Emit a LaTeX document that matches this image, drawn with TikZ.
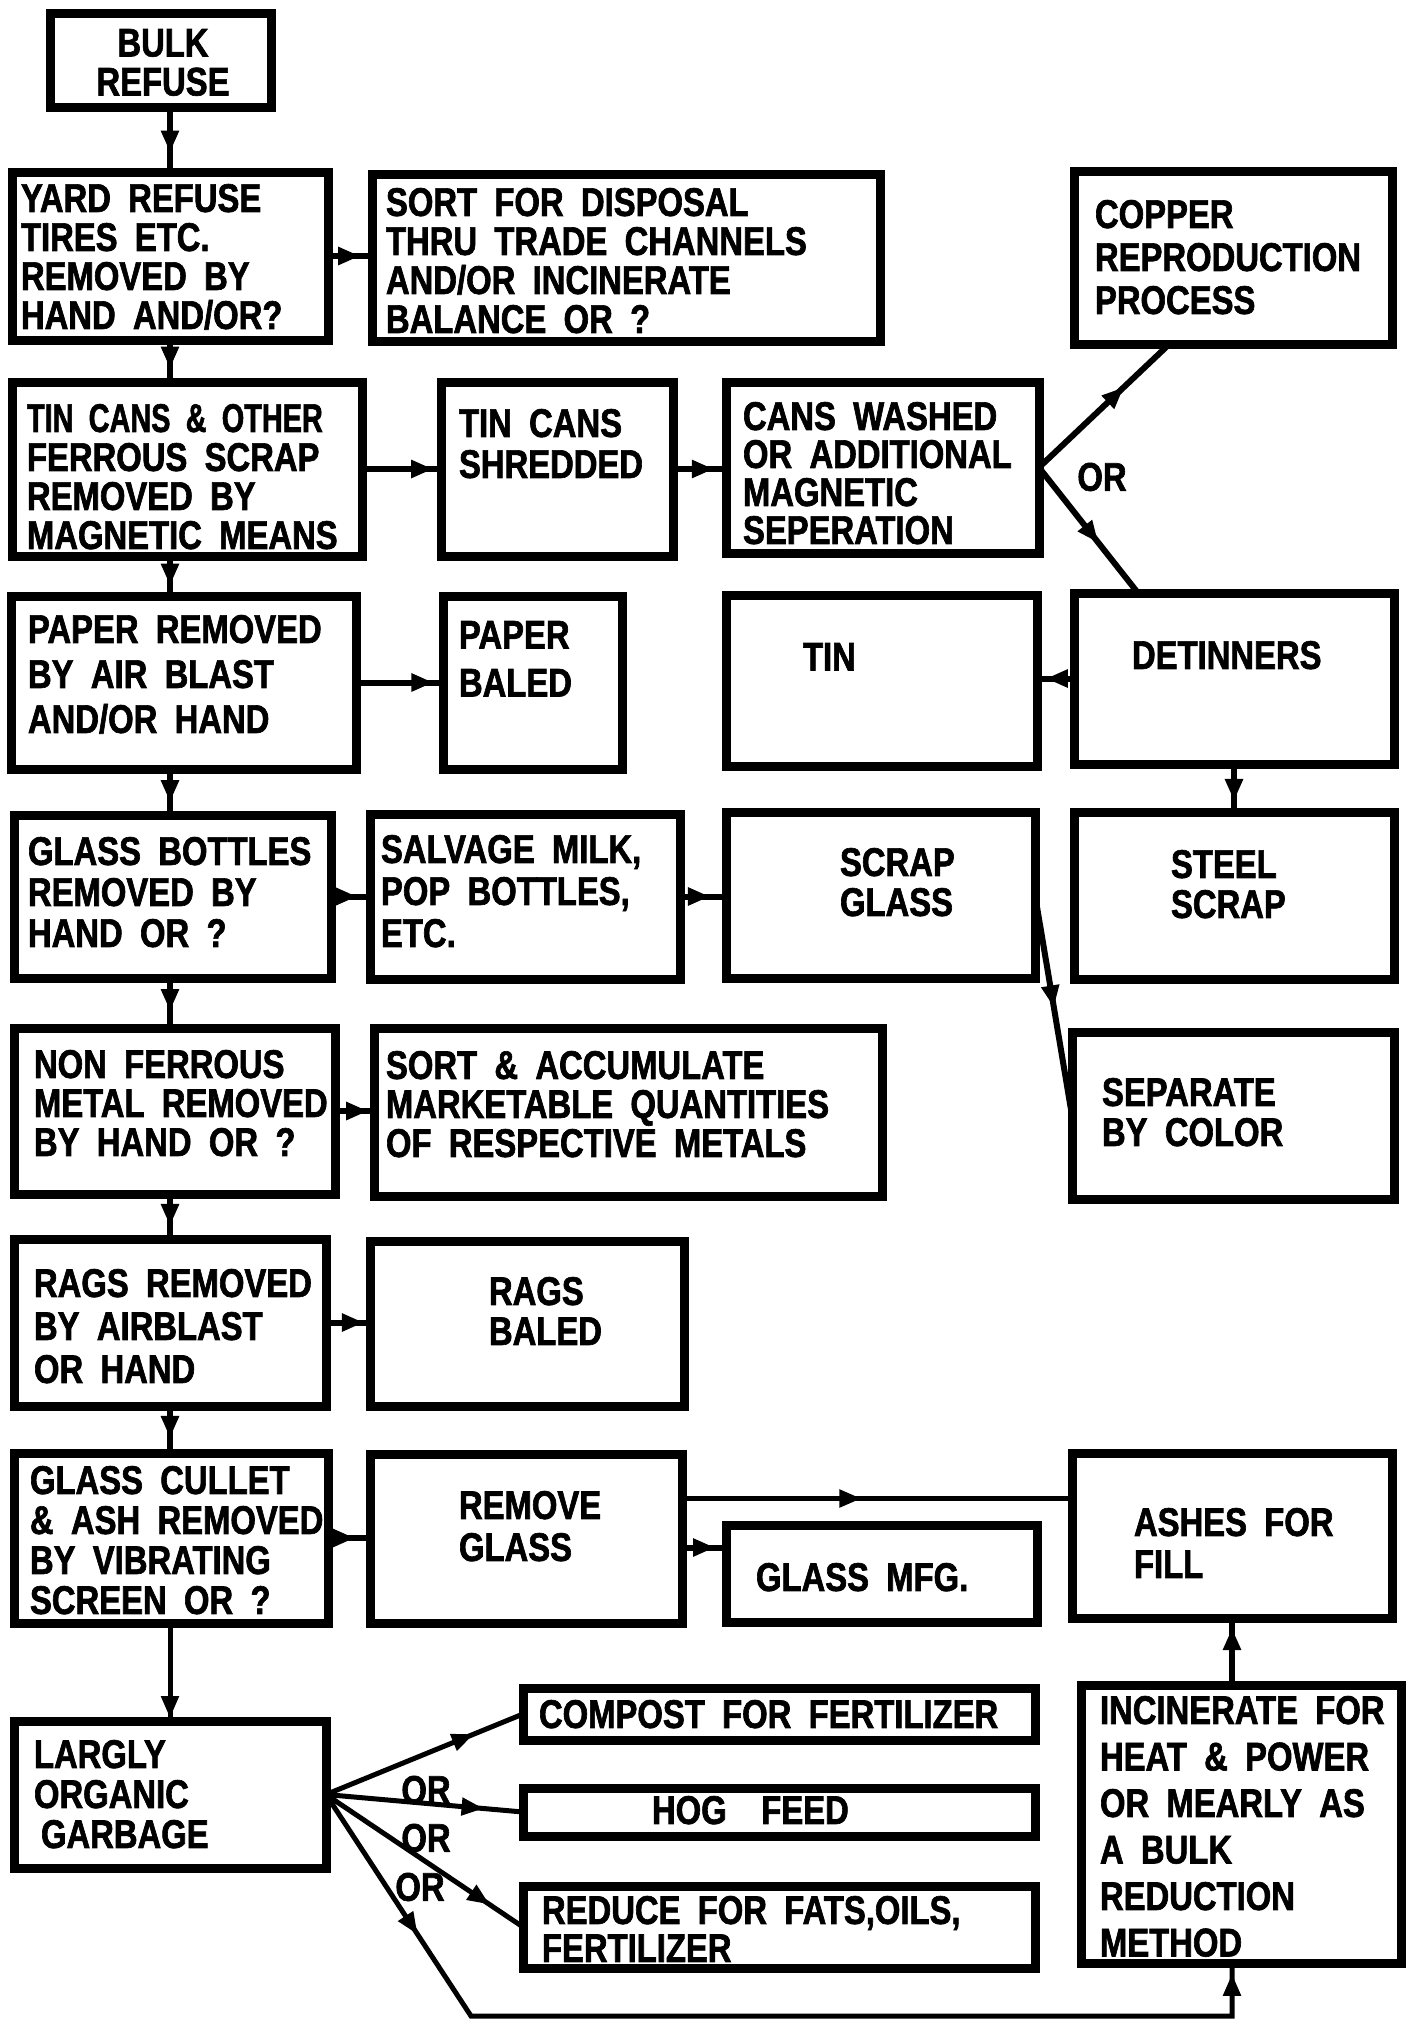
\documentclass[tikz,border=0pt]{standalone}
\usepackage{graphicx}
\usepackage{fontspec}
\setmainfont{Liberation Sans}[FakeStretch=0.82,WordSpace=1.9,BoldFeatures={FakeBold=1.6}]
\usetikzlibrary{arrows.meta,decorations.markings,calc}
\tikzset{
  box/.style={draw, line width=9pt, inner sep=0pt, outer sep=0pt, line join=miter},
  txt/.style={inner sep=0pt, outer sep=0pt, anchor=north west, align=left},
  ortxt/.style={inner sep=0pt, outer sep=0pt, font=\fontsize{40}{40}\selectfont\bfseries},
  conn/.style={draw, line width=6pt},
  olink/.style={draw, line width=5pt, line join=miter},
  ar/.style={postaction={decorate}, decoration={markings, mark=at position #1 with {\arrow{Triangle[length=22pt,width=17pt]}}}},
  artwo/.style 2 args={postaction={decorate}, decoration={markings,
     mark=at position #1 with {\arrow{Triangle[length=22pt,width=17pt]}},
     mark=at position #2 with {\arrow{Triangle[length=22pt,width=17pt]}}}},
}
\newcommand\PlaceBox[5]{\node[box, minimum width={#4-#2}, minimum height={#5-#3}] (#1) at ({(#2+#4)/2},{(#3+#5)/2}) {};}
\newcommand\PlaceText[5][39]{\node[txt, font={\fontsize{40}{#1}\selectfont\bfseries}] (#2) at (#3,#4) {#5};}
\begin{document}
\begin{tikzpicture}[x=1pt,y=-1pt]
\useasboundingbox[fill=white] (0,0) rectangle (1407,2022);
% boxes
\PlaceBox{bulk}{50}{13}{271}{107}
\PlaceBox{yard}{12}{172}{328}{340}
\PlaceBox{sort}{372}{174}{880}{341}
\PlaceBox{copper}{1074}{171}{1392}{344}
\PlaceBox{tincans}{12}{382}{362}{556}
\PlaceBox{shredded}{441}{382}{673}{556}
\PlaceBox{washed}{726}{382}{1039}{553}
\PlaceBox{paper}{11}{596}{356}{769}
\PlaceBox{paperbaled}{443}{596}{622}{769}
\PlaceBox{tin}{726}{595}{1037}{766}
\PlaceBox{detinners}{1074}{593}{1394}{764}
\PlaceBox{glassbottles}{14}{815}{331}{978}
\PlaceBox{salvage}{370}{814}{680}{979}
\PlaceBox{scrapglass}{726}{812}{1035}{978}
\PlaceBox{steel}{1074}{812}{1394}{979}
\PlaceBox{nonferrous}{14}{1028}{335}{1194}
\PlaceBox{sortacc}{374}{1028}{882}{1196}
\PlaceBox{separate}{1072}{1032}{1394}{1199}
\PlaceBox{rags}{14}{1239}{326}{1406}
\PlaceBox{ragsbaled}{370}{1241}{684}{1406}
\PlaceBox{cullet}{14}{1453}{328}{1623}
\PlaceBox{removeglass}{370}{1454}{682}{1623}
\PlaceBox{glassmfg}{726}{1525}{1037}{1622}
\PlaceBox{ashes}{1072}{1453}{1392}{1618}
\PlaceBox{largly}{14}{1721}{326}{1868}
\PlaceBox{compost}{523}{1688}{1035}{1740}
\PlaceBox{hogfeed}{523}{1788}{1035}{1836}
\PlaceBox{reduce}{523}{1886}{1035}{1968}
\PlaceBox{incinerate}{1081}{1685}{1401}{1963}
% texts
\node[txt, anchor=north, align=center, font={\fontsize{40}{39}\selectfont\bfseries}] (bulkT) at (163,29) {BULK\\REFUSE};
\PlaceText{yardT}{21}{184}{YARD REFUSE\\TIRES ETC.\\REMOVED BY\\HAND AND/OR?}
\PlaceText{sortT}{386}{188}{SORT FOR DISPOSAL\\THRU TRADE CHANNELS\\AND/OR INCINERATE\\BALANCE OR ?}
\PlaceText[43]{copperT}{1095}{200}{COPPER\\REPRODUCTION\\PROCESS}
\PlaceText{tincansT}{27}{404}{\scalebox{0.88}[1]{TIN CANS \& OTHER}\\FERROUS SCRAP\\REMOVED BY\\MAGNETIC MEANS}
\PlaceText[41]{shreddedT}{459}{409}{TIN CANS\\SHREDDED}
\PlaceText[38]{washedT}{743}{402}{CANS WASHED\\OR ADDITIONAL\\MAGNETIC\\SEPERATION}
\PlaceText[45]{paperT}{28}{615}{PAPER REMOVED\\BY AIR BLAST\\AND/OR HAND}
\PlaceText[48]{paperbaledT}{459}{621}{PAPER\\BALED}
\PlaceText{tinT}{803}{643}{TIN}
\PlaceText{detinnersT}{1132}{641}{DETINNERS}
\PlaceText[41]{glassbottlesT}{28}{837}{GLASS BOTTLES\\REMOVED BY\\HAND OR ?}
\PlaceText[42]{salvageT}{381}{835}{SALVAGE MILK,\\POP BOTTLES,\\ETC.}
\PlaceText[40]{scrapglassT}{840}{848}{SCRAP\\GLASS}
\PlaceText[40]{steelT}{1171}{850}{STEEL\\SCRAP}
\PlaceText{nonferrousT}{34}{1050}{NON FERROUS\\METAL REMOVED\\BY HAND OR ?}
\PlaceText{sortaccT}{386}{1051}{SORT \& ACCUMULATE\\MARKETABLE QUANTITIES\\OF RESPECTIVE METALS}
\PlaceText[40]{separateT}{1102}{1078}{SEPARATE\\BY COLOR}
\PlaceText[43]{ragsT}{34}{1269}{RAGS REMOVED\\BY AIRBLAST\\OR HAND}
\PlaceText[40]{ragsbaledT}{489}{1277}{RAGS\\BALED}
\PlaceText[40]{culletT}{30}{1466}{GLASS CULLET\\\& ASH REMOVED\\BY VIBRATING\\SCREEN OR ?}
\PlaceText[42]{removeglassT}{459}{1491}{REMOVE\\GLASS}
\PlaceText{glassmfgT}{756}{1563}{GLASS MFG.}
\PlaceText[42]{ashesT}{1134}{1508}{ASHES FOR\\FILL}
\PlaceText[40]{larglyT}{34}{1740}{LARGLY\\ORGANIC\\\hspace*{7pt}GARBAGE}
\PlaceText{compostT}{539}{1700}{COMPOST FOR FERTILIZER}
\PlaceText{hogfeedT}{652}{1796}{HOG~~FEED}
\PlaceText[38]{reduceT}{542}{1896}{REDUCE FOR FATS,OILS,\\FERTILIZER}
\PlaceText[46.5]{incinerateT}{1100}{1696}{INCINERATE FOR\\HEAT \& POWER\\OR MEARLY AS\\A BULK\\REDUCTION\\METHOD}
\node[ortxt] (or1) at (1102,477) {OR};
\node[ortxt] (or2) at (426,1790) {OR};
\node[ortxt] (or3) at (426,1838) {OR};
\node[ortxt] (or4) at (420,1887) {OR};
% main column
\draw[conn, ar=.7] (yard.north |- bulk.south) -- (yard.north);
\draw[conn, ar=.68] (yard.south) -- (yard.south |- tincans.north);
\draw[conn, ar=.74] (yard.south |- tincans.south) -- (yard.south |- paper.north);
\draw[conn, ar=.72] (yard.south |- paper.south) -- (yard.south |- glassbottles.north);
\draw[conn, ar=.66] (yard.south |- glassbottles.south) -- (yard.south |- nonferrous.north);
\draw[conn, ar=.71] (yard.south |- nonferrous.south) -- (yard.south |- rags.north);
\draw[conn, ar=.68] (yard.south |- rags.south) -- (yard.south |- cullet.north);
\draw[olink, ar=.97] (yard.south |- cullet.south) -- (yard.south |- largly.north);
% horizontals
\draw[conn, ar=.73] (yard.east) -- (yard.east -| sort.west);
\draw[conn, ar=.9] (tincans.east) -- (tincans.east -| shredded.west);
\draw[conn, ar=.77] (shredded.east) -- (shredded.east -| washed.west);
\draw[conn, ar=.89] (paper.east) -- (paper.east -| paperbaled.west);
\draw[conn, ar=.67] (glassbottles.east) -- (glassbottles.east -| salvage.west);
\draw[conn, ar=.65] (salvage.east) -- (salvage.east -| scrapglass.west);
\draw[conn, ar=.85] (nonferrous.east) -- (nonferrous.east -| sortacc.west);
\draw[conn, ar=.86] (rags.east) -- (rags.east -| ragsbaled.west);
\draw[conn, ar=.64] (cullet.east) -- (cullet.east -| removeglass.west);
\coordinate (rgA) at ($(removeglass.east)+(0,-40)$);
\coordinate (rgB) at ($(removeglass.east)+(0,9)$);
\draw[olink, ar=.46] (rgA) -- (rgA -| ashes.west);
\draw[conn, ar=.75] (rgB) -- (rgB -| glassmfg.west);
% right side
\draw[conn, ar=.65] (washed.east) -- ($(copper.south west)!.3!(copper.south east)$);
\draw[conn, ar=.6] (washed.east) -- ($(detinners.north west)!.2!(detinners.north east)$);
\draw[conn, ar=.76] (detinners.west) -- (detinners.west -| tin.east);
\draw[conn, ar=.77] (detinners.south) -- (steel.north);
\draw[conn, ar=.51] (scrapglass.east) -- (separate.west);
% organic
\draw[olink, ar=.75] (largly.east) -- (compost.west);
\draw[olink, ar=.8] (largly.east) -- (hogfeed.west);
\draw[olink, ar=.83] (largly.east) -- (reduce.west);
\coordinate (c1) at (471,2016);
\coordinate (c2) at (1232,2016);
\draw[olink, artwo={.155}{.99}] (largly.east) -- (c1) -- (c2) -- (c2 |- incinerate.south);
\draw[conn, ar=.85] (c2 |- incinerate.north) -- (c2 |- ashes.south);
\end{tikzpicture}
\end{document}
